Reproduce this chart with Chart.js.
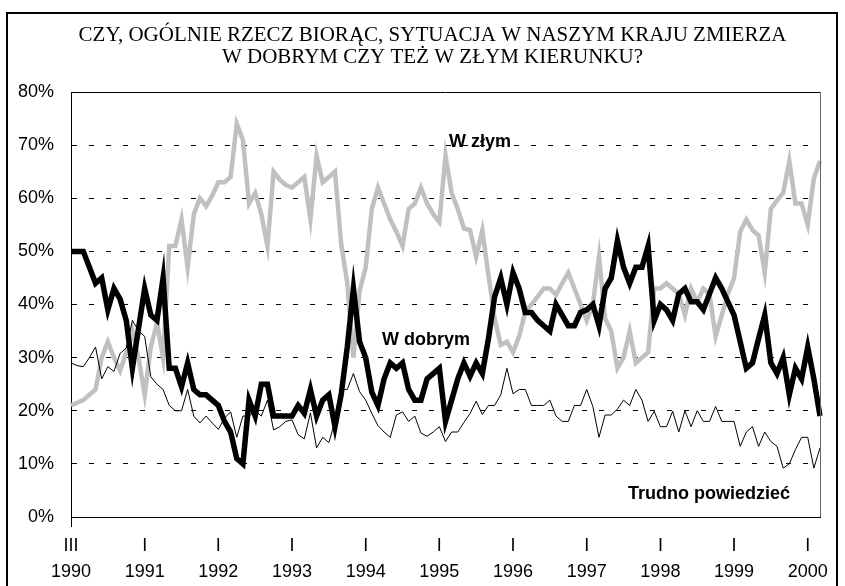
<!DOCTYPE html>
<html>
<head>
<meta charset="utf-8">
<script src="https://cdn.jsdelivr.net/npm/chart.js@4.4.1/dist/chart.umd.min.js"></script>
<style>
  html, body { margin: 0; padding: 0; background: #fff; }
  #wrap { position: relative; width: 845px; height: 586px; overflow: hidden; }
  #frame { position: absolute; left: 6px; top: 12px; width: 832px; height: 620px; border: 2px solid #000; box-sizing: border-box; }
  #chart { position: absolute; left: 0; top: 0; }
</style>
</head>
<body>
<div id="wrap">
  <div id="frame"></div>
  <canvas id="chart" width="845" height="586"></canvas>
</div>
<script>
// monthly surveys, III 1990 .. III 2000
const titleLines = ['CZY, OGÓLNIE RZECZ BIORĄC, SYTUACJA W NASZYM KRAJU ZMIERZA', 'W DOBRYM CZY TEŻ W ZŁYM KIERUNKU?'];
const yearLabels = ['1990', '1991', '1992', '1993', '1994', '1995', '1996', '1997', '1998', '1999', '2000'];
const monthMarks = ['III', 'I', 'I', 'I', 'I', 'I', 'I', 'I', 'I', 'I', 'I'];

const wDobrym = [
  50, 50, 50, 47, 44, 45, 39, 43, 41, 37, 28, 35.5,
  43, 38, 37, 45, 28, 28, 24.5, 29, 24, 23, 23, 22,
  21, 18, 16, 11, 10, 22, 19, 25, 25, 19, 19, 19,
  19, 21, 19.5, 24, 19, 22, 23, 17, 23, 32, 43, 33,
  30, 23.5, 21, 26, 29, 28, 29, 24, 22, 22, 26, 27,
  28, 18, 22, 26, 29, 26.5, 29, 27, 33.6, 41.5, 45, 40,
  46, 43, 38.5, 38.5, 37, 36, 35, 40, 38, 36, 36, 38.5,
  39, 40, 36, 43, 45, 52, 47, 44, 47, 47, 51, 37,
  40, 39, 37, 42, 43, 40.5, 40.5, 39, 42, 45, 43, 40.5,
  38, 33, 28, 29, 33.6, 38, 29, 27, 30, 23, 28, 26,
  32, 26, 19
];

const wZlym = [
  21, 21.5, 22, 23, 24, 30, 33, 30, 27.5, 31, 35, 30,
  23, 32, 36.5, 30, 51, 51, 56, 47, 57, 60, 58.5, 60.5,
  63, 63, 64, 74, 71, 59, 61, 57, 51, 65, 63.5, 62.5,
  62, 63, 64, 56, 68, 63, 64, 65, 51.5, 44, 30, 42.5,
  47, 58, 62, 59, 56, 53.7, 51, 58, 59, 62, 59, 57,
  55.5, 68, 61, 58, 54.3, 54, 49, 54, 45.5, 37.4, 32.4, 33,
  31, 34, 38.7, 40, 41.5, 43, 43, 41.8, 44, 46, 43, 40,
  37, 40, 49, 37.4, 35, 28, 30, 35, 29, 30, 31, 43,
  43, 44, 43, 42, 38, 43, 40.5, 43, 42, 34, 38, 42,
  45, 53.7, 56, 54, 53, 46, 58, 59.6, 61, 67, 59, 59,
  55, 63.7, 67
];

const trudno = [
  29, 28.5, 28.3, 30, 32, 26, 28.3, 27.4, 30.8, 31.8, 37, 35,
  34, 26.4, 25, 24, 21, 20, 20, 24, 19, 17.7, 19, 17.7,
  16.5, 18.6, 19.8, 15, 19, 19, 20, 19, 22, 16.4, 17, 18,
  18.3, 15.5, 14.7, 19.6, 13, 15, 14, 18, 24, 24, 27, 23.6,
  22, 19.5, 17.2, 16, 15, 19.2, 19.8, 18, 19, 15.8, 15.2, 16,
  17, 14.2, 16, 16, 17.8, 19.5, 21.8, 19.3, 21, 21, 23, 28,
  23.2, 24, 24, 21, 21, 21, 22, 19, 18, 18, 21, 21,
  24, 20.8, 15, 19.2, 19.2, 20.3, 22, 21, 24, 22, 18, 19.9,
  17, 17, 19.9, 16, 20, 17, 20, 18, 18, 20.8, 18, 18,
  18, 13.3, 16, 17, 13.3, 16, 14.2, 13.3, 9.2, 10, 12.7, 15,
  15, 9.2, 13
];

// category per survey month, starting with March 1990
const months = [];
for (let i = 0; i < wDobrym.length; i++) {
  const m = (2 + i) % 12 + 1;
  const y = 1990 + Math.floor((2 + i) / 12);
  months.push(y + '-' + (m < 10 ? '0' + m : m));
}

const isYear = (i) => i % 12 === 0;

// title, box around plot, series names
const extras = {
  id: 'extras',
  afterDraw(chart) {
    const { ctx, chartArea: a } = chart;
    ctx.save();
    ctx.lineWidth = 1;
    ctx.strokeStyle = '#000';
    ctx.beginPath();
    ctx.moveTo(a.left, a.top + 0.5);
    ctx.lineTo(a.right, a.top + 0.5);
    ctx.stroke();
    ctx.strokeStyle = '#666';
    ctx.beginPath();
    ctx.moveTo(a.right + 0.5, a.top);
    ctx.lineTo(a.right + 0.5, a.bottom);
    ctx.stroke();

    ctx.fillStyle = '#000';
    ctx.textBaseline = 'middle';
    ctx.textAlign = 'center';
    ctx.font = '21px "Liberation Serif", "Times New Roman", serif';
    ctx.fillText(titleLines[0], 432.5, 35);
    ctx.fillText(titleLines[1], 432.5, 57);

    ctx.font = 'bold 18px "Liberation Sans", Arial, sans-serif';
    ctx.textAlign = 'left';
    ctx.fillText('W złym', 449, 142);
    ctx.fillText('W dobrym', 382, 340);
    ctx.fillText('Trudno powiedzieć', 628, 494);
    ctx.restore();
  }
};

new Chart(document.getElementById('chart'), {
  type: 'line',
  data: {
    labels: months,
    datasets: [
      {
        label: 'W dobrym',
        data: wDobrym,
        borderColor: '#000',
        borderWidth: 5.5,
        pointRadius: 0,
        order: 1
      },
      {
        label: 'Trudno powiedzieć',
        data: trudno,
        borderColor: '#000',
        borderWidth: 1,
        pointRadius: 0,
        order: 2
      },
      {
        label: 'W złym',
        data: wZlym,
        borderColor: '#c0c0c0',
        borderWidth: 4.5,
        pointRadius: 0,
        order: 3
      }
    ]
  },
  options: {
    responsive: false,
    animation: false,
    layout: { padding: { left: 0, right: 25, top: 92, bottom: 0 } },
    plugins: {
      legend: { display: false },
      tooltip: { enabled: false },
      title: { display: false }
    },
    scales: {
      x: {
        type: 'category',
        afterFit: (s) => { s.height = 69; },
        grid: {
          color: (c) => isYear(c.index) ? '#000' : 'rgba(0,0,0,0)',
          lineWidth: (c) => isYear(c.index) ? 1 : 0,
          tickColor: (c) => isYear(c.index) ? '#000' : 'rgba(0,0,0,0)',
          tickWidth: (c) => isYear(c.index) ? 1 : 0,
          tickLength: 10
        },
        border: { display: true, color: '#000', width: 1, dash: [5, 12] },
        ticks: {
          autoSkip: false,
          maxRotation: 0,
          minRotation: 0,
          padding: 6,
          color: '#000',
          font: { family: '"Liberation Sans", Arial, sans-serif', size: 18, lineHeight: 1.45 },
          callback: (v, i) => isYear(i) ? [monthMarks[i / 12], yearLabels[i / 12]] : null
        }
      },
      y: {
        min: 0,
        max: 80,
        afterFit: (s) => { s.width = 71; },
        grid: { color: '#000', lineWidth: 1, drawTicks: false },
        border: { display: true, color: '#000', width: 1, dash: [5, 12] },
        ticks: {
          stepSize: 10,
          padding: 17,
          color: '#000',
          font: { family: '"Liberation Sans", Arial, sans-serif', size: 18 },
          callback: (v) => v + '%'
        }
      }
    }
  },
  plugins: [extras]
});
</script>
</body>
</html>
